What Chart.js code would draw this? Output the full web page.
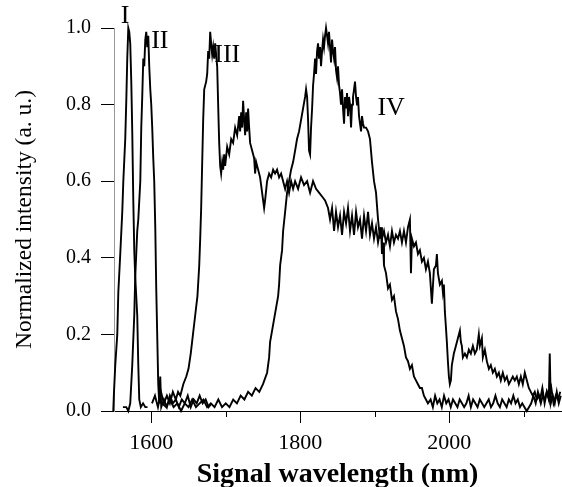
<!DOCTYPE html>
<html>
<head>
<meta charset="utf-8">
<script src="https://cdn.jsdelivr.net/npm/chart.js@4/dist/chart.umd.min.js"></script>
<style>
  html, body { margin: 0; padding: 0; background: #fff; }
  canvas { display: block; }
</style>
</head>
<body>
<canvas id="spectra" width="562" height="487"></canvas>
<script>
// Spectre I
const wlI = [1549, 1550, 1551.7, 1554.4, 1555.8, 1558.4, 1561.1, 1562.5, 1565.1, 1566.5, 1567.8, 1569.2, 1570.5, 1571.8,
    1573.2, 1574.5, 1575.9, 1577.2, 1578.5, 1581.2, 1582.6, 1583.9, 1586, 1589, 1592, 1595];
const intI = [0.0, 0.05, 0.12, 0.2, 0.31, 0.41, 0.52, 0.6, 0.71, 0.81, 0.92, 1.0, 0.99, 0.96,
    0.86, 0.73, 0.55, 0.42, 0.35, 0.25, 0.12, 0.03, 0.01, 0.02, 0.01, 0.01];

// Spectre II
const wlII = [1562, 1566.5, 1569.2, 1571.8, 1574.5, 1577.2, 1578.5, 1581.2, 1582.6, 1585.3, 1586.6, 1587.9, 1589.3, 1590.6,
    1592, 1593.3, 1594.6, 1596, 1597.3, 1598.7, 1600, 1601.3, 1602.7, 1604, 1605.4, 1606.7, 1608, 1609.4, 1610.7, 1612.1,
    1613.4, 1617, 1621, 1625, 1629, 1633, 1637, 1641, 1645, 1649, 1653, 1657, 1661, 1665, 1669, 1673, 1677, 1681];
const intII = [0.01, 0.01, 0.0, 0.02, 0.12, 0.25, 0.35, 0.47, 0.5, 0.6, 0.74, 0.82, 0.92, 0.9,
    0.97, 0.99, 0.95, 0.98, 0.9, 0.84, 0.8, 0.74, 0.66, 0.6, 0.48, 0.32, 0.2, 0.07, 0.02, 0.09,
    0.01, 0.03, 0.01, 0.04, 0.02, 0.03, 0.01, 0.03, 0.02, 0.04, 0.01, 0.03, 0.02, 0.04, 0.02, 0.03, 0.01, 0.02];

// Spectre III
const wlIII = [1601, 1605, 1609, 1613, 1617, 1621, 1625, 1629, 1633, 1636, 1639, 1643, 1647, 1650, 1653, 1656, 1659, 1662,
    1664.4, 1665.7, 1667, 1668.4, 1669.7, 1671.1, 1673.7, 1675.1, 1676.4, 1677.8, 1679.1, 1680.4, 1681.8, 1683.1, 1684.5,
    1685.8, 1687.1, 1688.5, 1689.8, 1691.2, 1692.5, 1693.8, 1695.2, 1696.5, 1697.9, 1699.2, 1701.9, 1704.6, 1707.3, 1709.9,
    1712.6, 1715.3, 1718, 1719.3, 1720.7, 1722, 1723.3, 1724.7, 1726, 1727.4, 1728.7, 1730, 1731.4, 1732.7, 1735.4, 1738.1,
    1739.4, 1740.8, 1743.5, 1746.1, 1748.8, 1751.5, 1752.8, 1755.5, 1758.2, 1760.9, 1763.6, 1766.2, 1768.9, 1771.6, 1774.3,
    1777, 1779.7, 1782.3, 1785, 1787.7, 1790.4, 1793.1, 1797.1, 1801.1, 1805.1, 1809.2, 1813.2, 1817.2, 1821.2, 1825.2,
    1829.3, 1833.3, 1837.3, 1840, 1842.7, 1845.4, 1848, 1850.7, 1853.4, 1856.1, 1858.8, 1861.5, 1864.1, 1866.8, 1869.5,
    1872.2, 1874.9, 1877.5, 1880.2, 1882.9, 1885.6, 1888.3, 1891, 1893.6, 1896.3, 1899, 1901.7, 1904.4, 1907.1, 1909.7,
    1912.4, 1915.1, 1917.8, 1920.4, 1923.1, 1925.8, 1928.5, 1931.2, 1933.8, 1936.5, 1939.2, 1941.9, 1944.6, 1947.2, 1948.6,
    1949.9, 1952.6, 1955.3, 1958, 1960.6, 1963.3, 1966, 1968.7, 1971.4, 1974, 1976.7, 1979.4, 1982.1, 1983.4, 1984.8, 1987.4,
    1990.1, 1991.5, 1992.8, 1994.1, 1995.5, 1996.8, 1998.2, 1999.5, 2000.8, 2002.2, 2003.5, 2006.2, 2008.9, 2011.6, 2014.3,
    2015.6, 2016.9, 2018.3, 2021, 2023.6, 2026.3, 2029, 2031.7, 2034.4, 2037, 2039.7, 2041.1, 2043.8, 2045.1, 2047.8, 2050.5,
    2053.2, 2055.8, 2058.5, 2061.2, 2063.9, 2066.6, 2069.2, 2071.9, 2074.6, 2077.3, 2080, 2082.7, 2085.3, 2088, 2090.7,
    2093.4, 2096.1, 2098.7, 2101.4, 2104.1, 2106.8, 2109.5, 2112.1, 2114.8, 2117.5, 2120.2, 2122.9, 2125.5, 2128.2, 2130.9,
    2133.6, 2134.9, 2136.3, 2139, 2141.6, 2144.3, 2147, 2149.7];
const intIII = [0.02, 0.04, 0.01, 0.05, 0.02, 0.04, 0.02, 0.05, 0.03, 0.05, 0.04, 0.07, 0.09, 0.11, 0.15, 0.2, 0.25, 0.3,
    0.38, 0.45, 0.53, 0.65, 0.76, 0.84, 0.86, 0.88, 0.94, 0.92, 0.99, 0.96, 0.93, 0.95, 0.92,
    0.96, 0.93, 0.9, 0.8, 0.7, 0.64, 0.62, 0.65, 0.63, 0.67, 0.64, 0.69, 0.67, 0.71, 0.7,
    0.74, 0.72, 0.77, 0.73, 0.78, 0.74, 0.81, 0.76, 0.72, 0.78, 0.73, 0.79, 0.74, 0.7, 0.68, 0.66,
    0.62, 0.65, 0.63, 0.61, 0.57, 0.53, 0.55, 0.6, 0.62, 0.61, 0.63, 0.62, 0.63, 0.61, 0.62,
    0.6, 0.58, 0.6, 0.57, 0.6, 0.58, 0.6, 0.58, 0.61, 0.59, 0.6, 0.57, 0.6, 0.58, 0.57,
    0.56, 0.55, 0.53, 0.5, 0.53, 0.47, 0.52, 0.48, 0.51, 0.46, 0.52, 0.49, 0.53, 0.47, 0.51,
    0.46, 0.52, 0.48, 0.5, 0.45, 0.51, 0.47, 0.52, 0.46, 0.49, 0.45, 0.48, 0.44, 0.47, 0.45,
    0.47, 0.44, 0.46, 0.43, 0.47, 0.44, 0.46, 0.45, 0.47, 0.44, 0.47, 0.44, 0.48, 0.5, 0.36,
    0.45, 0.43, 0.44, 0.41, 0.42, 0.39, 0.4, 0.37, 0.39, 0.36, 0.28, 0.37, 0.38, 0.41, 0.36, 0.33,
    0.34, 0.31, 0.33, 0.26, 0.22, 0.18, 0.13, 0.09, 0.07, 0.08, 0.12, 0.15, 0.17, 0.19, 0.21,
    0.18, 0.17, 0.14, 0.15, 0.14, 0.16, 0.15, 0.17, 0.15, 0.16, 0.2, 0.17, 0.19, 0.14, 0.16, 0.13,
    0.11, 0.12, 0.1, 0.11, 0.09, 0.1, 0.08, 0.1, 0.08, 0.09, 0.07, 0.08, 0.09, 0.08, 0.09,
    0.07, 0.09, 0.07, 0.1, 0.08, 0.06, 0.05, 0.04, 0.05, 0.03, 0.04, 0.02, 0.04, 0.03, 0.05,
    0.03, 0.15, 0.02, 0.04, 0.02, 0.05, 0.02, 0.04];

// Spectre IV
const wlIV = [1615, 1620, 1625, 1630, 1635, 1640, 1645, 1650, 1655, 1660, 1665, 1670, 1675, 1680, 1685, 1690, 1695, 1700,
    1705, 1710, 1715, 1720, 1725, 1730, 1735, 1740, 1745, 1750, 1755.5, 1758.2, 1759.5, 1762.2, 1764.9, 1767.6, 1770.3,
    1771.6, 1773, 1775.6, 1777, 1779.7, 1782.3, 1785, 1787.7, 1790.4, 1793.1, 1795.7, 1798.4, 1801.1, 1803.8, 1806.5,
    1807.8, 1809.2, 1810.5, 1811.8, 1813.2, 1814.5, 1815.9, 1817.2, 1818.5, 1819.9, 1821.2, 1822.6, 1823.9, 1825.2, 1826.6,
    1827.9, 1829.3, 1830.6, 1831.9, 1833.3, 1834.6, 1836, 1837.3, 1838.6, 1840, 1841.3, 1842.7, 1844, 1845.4, 1846.7, 1848,
    1849.4, 1850.7, 1852.1, 1853.4, 1854.7, 1856.1, 1857.4, 1858.8, 1860.1, 1861.5, 1862.8, 1864.1, 1865.5, 1866.8, 1868.2,
    1869.5, 1870.8, 1872.2, 1873.5, 1874.9, 1876.2, 1877.5, 1878.9, 1880.2, 1881.6, 1882.9, 1884.3, 1885.6, 1888.3, 1891,
    1893.6, 1896.3, 1899, 1901.7, 1904.4, 1907.1, 1908.4, 1909.7, 1911.1, 1912.4, 1915.1, 1917.8, 1920.4, 1923.1, 1925.8,
    1928.5, 1931.2, 1933.8, 1936.5, 1939.2, 1941.9, 1944.6, 1947.2, 1949.9, 1952.6, 1955.3, 1958, 1960.6, 1963.3, 1966,
    1968.7, 1971.4, 1975, 1978, 1981, 1984, 1987, 1990, 1993, 1996, 1999, 2002, 2005, 2008, 2011, 2014, 2017, 2020, 2023,
    2026, 2029, 2032, 2035, 2038, 2041, 2044, 2047, 2050, 2053, 2056, 2059, 2062, 2065, 2068, 2071, 2074, 2077, 2080, 2083,
    2086, 2089, 2092, 2095, 2098, 2101, 2104, 2107, 2110, 2113, 2116, 2119, 2122, 2125, 2128, 2131, 2134, 2137, 2140, 2143,
    2146, 2149];
const intIV = [0.02, 0.01, 0.03, 0.01, 0.02, 0.0, 0.02, 0.01, 0.03, 0.01, 0.02, 0.03, 0.01, 0.02, 0.01, 0.03, 0.01, 0.02,
    0.01, 0.03, 0.02, 0.04, 0.03, 0.05, 0.04, 0.06, 0.05, 0.07, 0.1, 0.14, 0.18, 0.21, 0.24, 0.27, 0.3,
    0.33, 0.38, 0.42, 0.47, 0.52, 0.57, 0.6, 0.63, 0.65, 0.68, 0.71, 0.73, 0.76, 0.79, 0.82,
    0.84, 0.82, 0.76, 0.68, 0.67, 0.74, 0.79, 0.85, 0.88, 0.92, 0.88, 0.94, 0.96, 0.92, 0.95,
    0.9, 0.94, 0.97, 0.95, 0.98, 1.0, 0.98, 0.96, 0.99, 0.95, 0.91, 0.97, 0.94, 0.92, 0.95, 0.89,
    0.87, 0.9, 0.85, 0.83, 0.8, 0.84, 0.79, 0.75, 0.82, 0.79, 0.83, 0.77, 0.82, 0.8, 0.74,
    0.8, 0.82, 0.84, 0.86, 0.82, 0.8, 0.82, 0.77, 0.77, 0.73, 0.77, 0.75, 0.74, 0.74, 0.73,
    0.71, 0.65, 0.6, 0.57, 0.5, 0.45, 0.48, 0.41, 0.44, 0.38, 0.36, 0.32, 0.33, 0.29, 0.3,
    0.26, 0.24, 0.21, 0.19, 0.17, 0.14, 0.13, 0.11, 0.12, 0.09, 0.08, 0.07, 0.06, 0.06, 0.04,
    0.03, 0.02, 0.03, 0.01, 0.04, 0.02, 0.03, 0.01, 0.04, 0.02, 0.03, 0.01, 0.03, 0.02, 0.01, 0.03, 0.02, 0.01, 0.02,
    0.04, 0.01, 0.03, 0.02, 0.01, 0.03, 0.02, 0.01, 0.02, 0.03, 0.01, 0.02, 0.04, 0.02, 0.01, 0.03, 0.02, 0.01, 0.03, 0.02,
    0.04, 0.02, 0.03, 0.01, 0.02, 0.01, 0.0, 0.01, 0.02, 0.04, 0.02, 0.05, 0.03, 0.06, 0.02, 0.05, 0.03, 0.06, 0.02, 0.04,
    0.03, 0.05];

// Axes
const xTicks = [1600, 1800, 2000];
const xMinorTicks = [1700, 1900, 2100];
const yTicks = [0, 0.2, 0.4, 0.6, 0.8, 1.0];

// Noms des pics
const peakNames = ['I', 'II', 'III', 'IV'];
const peakNameX = [1565, 1611.5, 1702, 1922];
const peakNameY = [1.03, 0.965, 0.93, 0.79];

const series = [[wlI, intI], [wlII, intII], [wlIII, intIII], [wlIV, intIV]];

function toPoints(wl, val) {
    return wl.map((w, i) => ({ x: w, y: val[i] }));
}

// Petits traits de l'axe x et noms des pics
const extras = {
    id: 'extras',
    afterDraw(chart) {
        const ctx = chart.ctx;
        const x = chart.scales.x;
        const y = chart.scales.y;
        ctx.save();
        ctx.strokeStyle = '#000';
        ctx.lineWidth = 1;
        xMinorTicks.forEach(v => {
            const px = Math.round(x.getPixelForValue(v)) + 0.5;
            ctx.beginPath();
            ctx.moveTo(px, x.top);
            ctx.lineTo(px, x.top + 6);
            ctx.stroke();
        });
        ctx.fillStyle = '#000';
        ctx.font = '26px "Liberation Serif"';
        ctx.textAlign = 'center';
        ctx.textBaseline = 'middle';
        peakNames.forEach((name, i) => {
            ctx.fillText(name, x.getPixelForValue(peakNameX[i]), y.getPixelForValue(peakNameY[i]));
        });
        ctx.restore();
    }
};

new Chart(document.getElementById('spectra'), {
    type: 'line',
    data: {
        datasets: series.map(([w, v]) => ({
            data: toPoints(w, v),
            borderColor: '#000',
            borderWidth: 1.9,
            pointRadius: 0,
            tension: 0,
            fill: false,
            clip: false
        }))
    },
    options: {
        responsive: false,
        animation: false,
        layout: { padding: { top: 28, right: 1, left: 0, bottom: 0 } },
        plugins: { legend: { display: false }, tooltip: { enabled: false } },
        scales: {
            x: {
                type: 'linear',
                min: 1550,
                max: 2150,
                afterBuildTicks: s => { s.ticks = xTicks.map(v => ({ value: v })); },
                afterFit: s => { s.height = 76; },
                grid: { drawOnChartArea: false, tickLength: 12, tickColor: '#000', color: '#000' },
                border: { color: '#000', width: 1 },
                ticks: {
                    color: '#000',
                    maxRotation: 0,
                    padding: 7,
                    font: { family: 'Liberation Serif', size: 22 },
                    callback: v => String(v)
                },
                title: {
                    display: true,
                    text: 'Signal wavelength (nm)',
                    color: '#000',
                    font: { family: 'Liberation Serif', size: 28, weight: 'bold', lineHeight: 1 },
                    padding: { top: 0, bottom: -2 }
                }
            },
            y: {
                min: 0,
                max: 1,
                afterBuildTicks: s => { s.ticks = yTicks.map(v => ({ value: v })); },
                afterFit: s => { s.width = 114; },
                grid: { drawOnChartArea: false, tickLength: 13, tickColor: '#000', color: '#000' },
                border: { color: '#999', width: 1 },
                ticks: {
                    color: '#000',
                    padding: 10,
                    font: { family: 'Liberation Serif', size: 20 },
                    callback: v => v.toFixed(1)
                },
                title: {
                    display: true,
                    text: 'Normalized intensity (a. u.)',
                    color: '#000',
                    font: { family: 'Liberation Serif', size: 23.5 },
                    padding: { top: 11, bottom: 0 }
                }
            }
        }
    },
    plugins: [extras]
});
</script>
</body>
</html>
